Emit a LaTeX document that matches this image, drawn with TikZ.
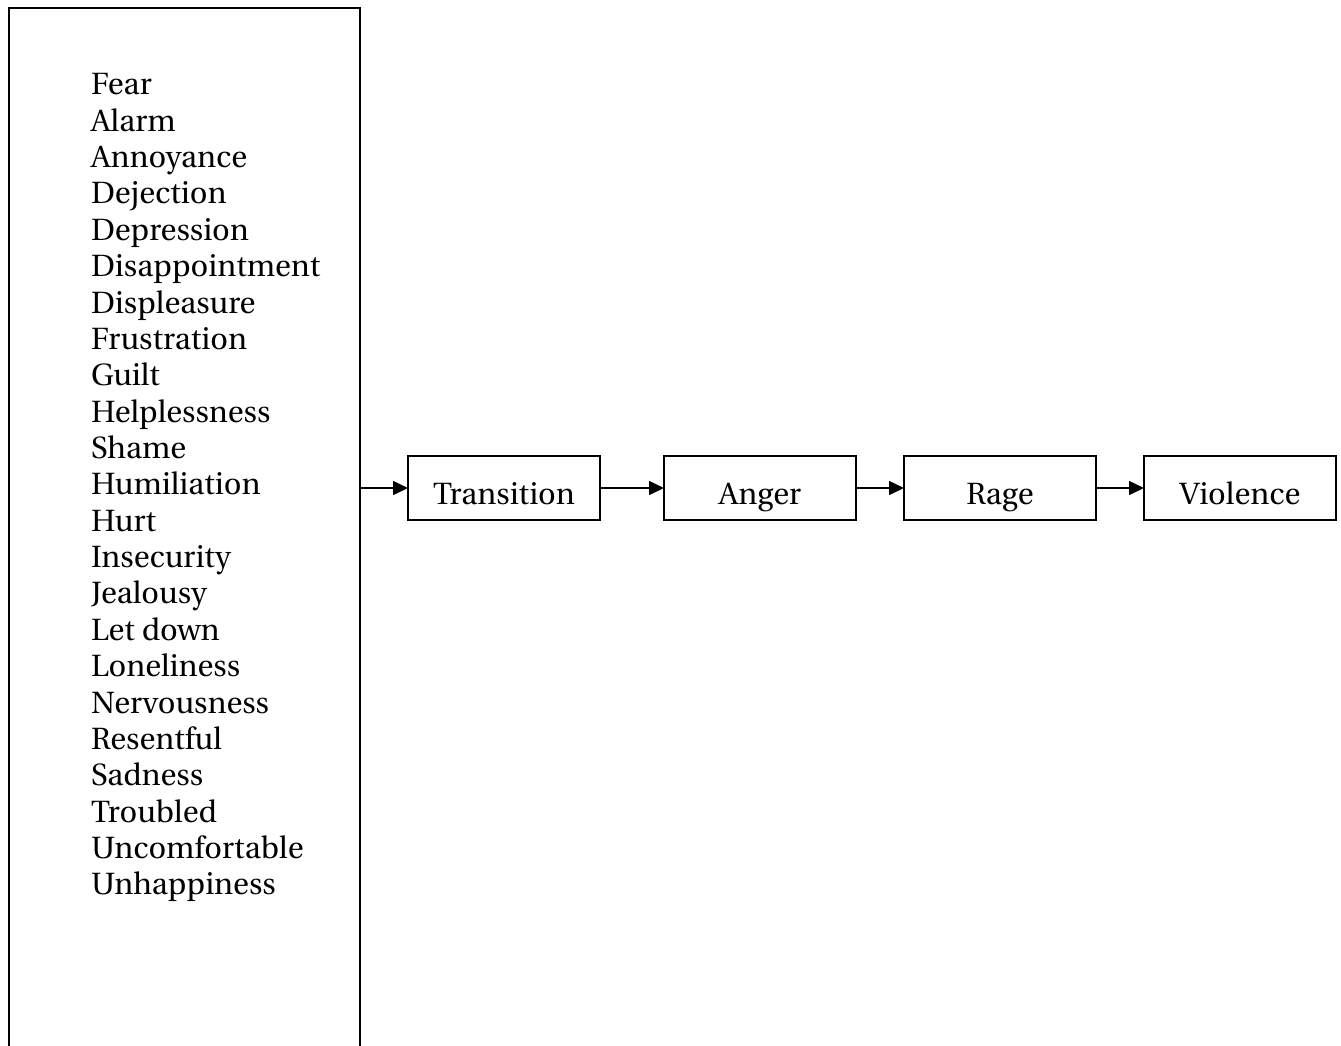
\documentclass[tikz,border=0pt]{standalone}
\usepackage[T1]{fontenc}
\renewcommand{\rmdefault}{put}
\usetikzlibrary{arrows.meta}
\begin{document}
\begin{tikzpicture}[x=1pt,y=-1pt,
  every node/.style={font=\fontsize{30.7}{36.36}\selectfont},
  frame/.style={draw,line width=2pt,inner sep=0pt,outer sep=0pt},
  stagebox/.style={draw,line width=1.8pt,minimum width=192pt,minimum height=64pt,inner sep=0pt,outer sep=0pt,text height=34pt,text depth=2pt},
  flow/.style={line width=1.5pt,-{Triangle[length=15pt,width=14pt]}}]
\useasboundingbox (0,0) rectangle (1341,1045);
\clip (0,0) rectangle (1341,1045);
% tall frame holding the list of feelings, running off the bottom edge
\node[frame,minimum width=351pt,minimum height=1080pt,anchor=north west] (list) at (9,8) {};
\node[anchor=north west,align=left,inner sep=0pt] (words) at (91,74) {Fear\\Alarm\\Annoyance\\Dejection\\Depression\\Disappointment\\Displeasure\\Frustration\\Guilt\\Helplessness\\Shame\\Humiliation\\Hurt\\Insecurity\\Jealousy\\Let down\\Loneliness\\Nervousness\\Resentful\\Sadness\\Troubled\\Uncomfortable\\Unhappiness};
% stages of escalation
\node[stagebox] (trans) at (504,488) {Transition};
\node[stagebox] (anger) at (760,488) {Anger};
\node[stagebox] (rage) at (1000,488) {Rage};
\node[stagebox] (viol) at (1240,488) {Violence};
\draw[flow] (list.east |- trans.west) -- (trans.west);
\draw[flow] (trans) -- (anger);
\draw[flow] (anger) -- (rage);
\draw[flow] (rage) -- (viol);
\end{tikzpicture}
\end{document}
